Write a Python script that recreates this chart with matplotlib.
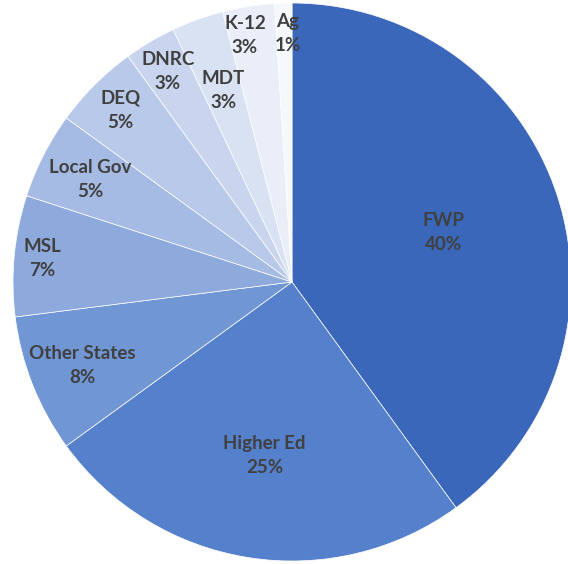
import numpy as np
import matplotlib
matplotlib.use("Agg")
import matplotlib.pyplot as plt

# share of each agency, clockwise from the top
agencies = ["FWP", "Higher Ed", "Other States", "MSL", "Local Gov",
            "DEQ", "DNRC", "MDT", "K-12", "Ag"]
shares = [40, 25, 8, 7, 5, 5, 3, 3, 3, 1]
colors = ["#3a67ba", "#5580cb", "#7096d4", "#8eaadc", "#a5bbe3",
          "#b9c9e9", "#c9d5ee", "#d9e2f3", "#e9eef8", "#f6f8fc"]
# how far out each label sits, as a fraction of the radius,
# plus a small turn (degrees) so the crowded top labels don't touch
label_r = [0.57, 0.63, 0.81, 0.90, 0.81, 0.87, 0.875, 0.73, 0.90, 0.89]
label_turn = [0, 0, 0, 0, 0, 0, 0, 0, 1.8, -0.8]

W, H = 568, 564
cx, cy, R = 292, H - 282, 279

fig = plt.figure(figsize=(W / 100, H / 100), dpi=100)
ax = fig.add_axes([0, 0, 1, 1])
wedges, _ = ax.pie(shares, colors=colors, startangle=90, counterclock=False,
                   center=(cx, cy), radius=R,
                   wedgeprops=dict(edgecolor="white", linewidth=0.5))

for w, name, val, f, t in zip(wedges, agencies, shares, label_r, label_turn):
    mid = np.deg2rad((w.theta1 + w.theta2) / 2 + t)
    x = cx + f * R * np.cos(mid)
    y = cy + f * R * np.sin(mid)
    ax.text(x, y, f"{name}\n{val}%", ha="center", va="center",
            fontsize=13.5, fontweight="bold", family="Lato",
            color="#404040", linespacing=1.5)

ax.set_xlim(0, W)
ax.set_ylim(0, H)
ax.set_aspect("equal")
ax.axis("off")
fig.savefig("out.png", dpi=100)
